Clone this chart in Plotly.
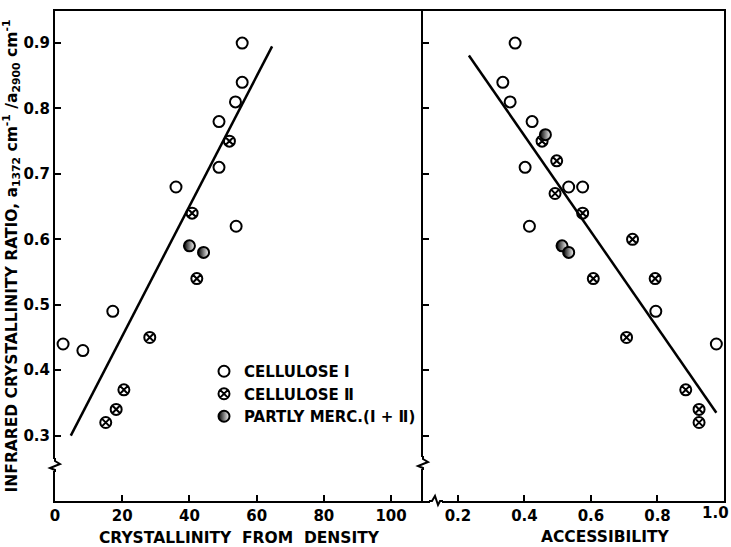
import plotly.graph_objects as go

# ---------------- data ----------------
# Left panel: crystallinity from density (x) vs IR crystallinity ratio (y)
cellI_density = [2.4, 8.3, 17.2, 36.0, 48.8, 48.8, 53.7, 53.9, 55.7, 55.7]
cellI_ratio_L = [0.44, 0.43, 0.49, 0.68, 0.78, 0.71, 0.81, 0.62, 0.84, 0.90]
cellII_density = [15.1, 18.2, 20.5, 28.2, 42.2, 40.8, 51.9]
cellII_ratio_L = [0.32, 0.34, 0.37, 0.45, 0.54, 0.64, 0.75]
merc_density = [40.0, 44.2]
merc_ratio_L = [0.59, 0.58]
fit_density = [4.7, 64.6]
fit_ratio_L = [0.30, 0.895]

# Right panel: accessibility (x) vs IR crystallinity ratio (y)
cellI_access = [0.372, 0.335, 0.357, 0.423, 0.402, 0.533, 0.575, 0.415, 0.795, 0.977]
cellI_ratio_R = [0.90, 0.84, 0.81, 0.78, 0.71, 0.68, 0.68, 0.62, 0.49, 0.44]
cellII_access = [0.453, 0.497, 0.492, 0.575, 0.725, 0.607, 0.793, 0.707, 0.885, 0.925, 0.925]
cellII_ratio_R = [0.75, 0.72, 0.67, 0.64, 0.60, 0.54, 0.54, 0.45, 0.37, 0.34, 0.32]
merc_access = [0.463, 0.513, 0.533]
merc_ratio_R = [0.76, 0.59, 0.58]
fit_access = [0.233, 0.977]
fit_ratio_R = [0.881, 0.335]

series_names = ["CELLULOSE \u2160", "CELLULOSE \u2161", "PARTLY MERC.(\u2160 + \u2161)"]
left_ticks = [0, 20, 40, 60, 80, 100]
right_ticks = [0.2, 0.4, 0.6, 0.8, 1.0]
right_tick_text = ["0.2", "0.4", "0.6", "0.8", ""]   # "1.0" drawn as an edge label below
y_ticks = [0.3, 0.4, 0.5, 0.6, 0.7, 0.8, 0.9]

# ---------------- styling ----------------
INK = "black"
FONT = "DejaVu Sans"
open_marker = dict(symbol="circle-open", size=11, color=INK, line=dict(width=2, color=INK))
cross_marker = dict(symbol="circle-x-open", size=11, color=INK, line=dict(width=2, color=INK))
half_marker = dict(symbol="circle", size=11, color=INK,
                   gradient=dict(type="horizontal", color="white"),
                   line=dict(width=2, color=INK))

fig = go.Figure()

for xs, ys, name, mk, xa, ya, show in [
    (cellI_density, cellI_ratio_L, series_names[0], open_marker, "x", "y", True),
    (cellII_density, cellII_ratio_L, series_names[1], cross_marker, "x", "y", True),
    (merc_density, merc_ratio_L, series_names[2], half_marker, "x", "y", True),
    (cellI_access, cellI_ratio_R, series_names[0], open_marker, "x2", "y2", False),
    (cellII_access, cellII_ratio_R, series_names[1], cross_marker, "x2", "y2", False),
    (merc_access, merc_ratio_R, series_names[2], half_marker, "x2", "y2", False),
]:
    fig.add_trace(go.Scatter(x=xs, y=ys, mode="markers", name=name, marker=mk,
                             xaxis=xa, yaxis=ya, showlegend=show))

fig.add_trace(go.Scatter(x=fit_density, y=fit_ratio_L, mode="lines",
                         line=dict(color=INK, width=2.5), showlegend=False,
                         xaxis="x", yaxis="y"))
fig.add_trace(go.Scatter(x=fit_access, y=fit_ratio_R, mode="lines",
                         line=dict(color=INK, width=2.5), showlegend=False,
                         xaxis="x2", yaxis="y2"))

# ---------------- geometry ----------------
W, H = 731, 547
L, R, T, B = 55, 724, 11, 501
PW, PH = R - L, B - T
DIV = 423
split = (DIV - L) / PW


def px(xp):
    return (xp - L) / PW


def py(yp):
    return (B - yp) / PH


def axis_common(mirror=True):
    return dict(showline=True, linewidth=2, linecolor=INK, mirror=mirror,
                ticks="inside", ticklen=6, tickwidth=2, tickcolor=INK,
                showgrid=False, zeroline=False, automargin=False,
                tickfont=dict(family=FONT, size=15, color=INK, weight="bold"))


title_font = dict(family=FONT, size=15.5, color=INK, weight="bold")
tick_font = dict(family=FONT, size=15, color=INK, weight="bold")

fig.update_layout(
    width=W, height=H,
    margin=dict(l=L, r=W - R, t=T, b=H - B, autoexpand=False),
    paper_bgcolor="white", plot_bgcolor="white",
    xaxis=dict(domain=[0, split], range=[0, 109.5], tickvals=left_ticks,
               title=dict(text="CRYSTALLINITY  FROM  DENSITY", standoff=11, font=title_font),
               **axis_common(True)),
    xaxis2=dict(domain=[split, 1], range=[0.095, 1.0], tickvals=right_ticks,
                ticktext=right_tick_text, anchor="y2",
                **axis_common(True)),
    yaxis=dict(range=[0.2, 0.949], tickvals=y_ticks, tickformat=".1f",
               title=dict(text="INFRARED CRYSTALLINITY RATIO, a<sub>1372</sub> cm<sup>-1</sup> /a<sub>2900</sub> cm<sup>-1</sup>",
                          standoff=4, font=title_font),
               **axis_common(False)),
    yaxis2=dict(range=[0.2, 0.949], tickvals=y_ticks, showticklabels=False,
                anchor="x2", matches="y", **axis_common(True)),
    showlegend=True,
    legend=dict(x=px(204), y=py(355), xanchor="left", yanchor="top",
                bgcolor="rgba(0,0,0,0)", borderwidth=0,
                font=dict(family=FONT, size=15, color=INK, weight="bold")),
    annotations=[
        dict(text="ACCESSIBILITY", xref="paper", yref="paper",
             x=px(605), y=py(537), xanchor="center", yanchor="middle",
             showarrow=False, font=title_font),
        dict(text=f"{right_ticks[-1]:.1f}", xref="paper", yref="paper",
             x=px(730), y=py(513), xanchor="right", yanchor="middle",
             showarrow=False, font=tick_font, borderpad=0),
    ],
)

# ---------------- axis break marks ----------------
shapes = []


def ybreak(xc, yc):
    shapes.append(dict(type="rect", xref="paper", yref="paper",
                       x0=px(xc - 2), x1=px(xc + 2), y0=py(yc + 6), y1=py(yc - 6),
                       fillcolor="white", line=dict(width=0), layer="above"))
    pts = [(xc, yc - 7), (xc, yc - 4), (xc + 5, yc - 1), (xc - 5, yc + 3), (xc, yc + 5), (xc, yc + 7)]
    path = "M " + " L ".join(f"{px(a):.5f} {py(b):.5f}" for a, b in pts)
    shapes.append(dict(type="path", xref="paper", yref="paper", path=path,
                       line=dict(color=INK, width=2), layer="above"))


def xbreak(xc, yc):
    shapes.append(dict(type="rect", xref="paper", yref="paper",
                       x0=px(xc - 6), x1=px(xc + 6), y0=py(yc + 2), y1=py(yc - 2),
                       fillcolor="white", line=dict(width=0), layer="above"))
    pts = [(xc - 7, yc), (xc - 4, yc), (xc - 1, yc - 5), (xc + 2, yc + 4), (xc + 4, yc), (xc + 7, yc)]
    path = "M " + " L ".join(f"{px(a):.5f} {py(b):.5f}" for a, b in pts)
    shapes.append(dict(type="path", xref="paper", yref="paper", path=path,
                       line=dict(color=INK, width=2), layer="above"))


ybreak(L, 465)
ybreak(DIV, 463)
xbreak(436, B)
fig.update_layout(shapes=shapes)

fig.write_html("out.html")
